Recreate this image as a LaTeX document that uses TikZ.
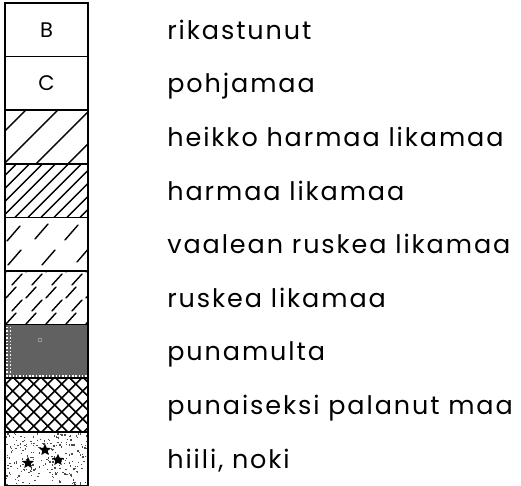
\documentclass[tikz,border=0pt]{standalone}
\usepackage{fontspec}
\setmainfont{Poppins}[LetterSpace=7.5]
\usetikzlibrary{shapes.geometric}

\begin{document}
\begin{tikzpicture}[x=0.02cm,y=-0.02cm,
  lbl/.style={anchor=base west,inner sep=0pt,font=\fontsize{14.5}{16}\selectfont},
  cellbox/.style={draw,line width=0.85pt},
  hatch/.style={line width=0.8pt,line cap=round},
  soot/.style={star,star points=5,star point ratio=2.2,fill=black,inner sep=0pt,minimum size=0.25cm}]
\useasboundingbox (0,0) rectangle (521,486);

% B and C
\node[font=\fontsize{12}{12}\selectfont] (rowB) at (46.5,29.8) {B};
\node[font=\fontsize{12}{12}\selectfont] (rowC) at (46.5,83.4) {C};

% heikko harmaa likamaa: sparse hatching
\begin{scope}
  \clip (5,110.2) rectangle (88,163.8);
  \foreach \a in {-28,4,...,100}
    \draw[hatch] (\a,163.8) -- ++(53.6,-53.6);
\end{scope}

% harmaa likamaa: dense hatching
\begin{scope}
  \clip (5,163.8) rectangle (88,217.4);
  \foreach \a in {-50,-37,...,100}
    \draw[hatch] (\a,217.4) -- ++(53.6,-53.6);
\end{scope}

% vaalean ruskea likamaa: sparse dashes
\begin{scope}
  \clip (5,217.4) rectangle (88,271);
  \foreach \p in {(7,241),(35,239),(65,240),(8,265),(42,265),(77,262)}
    \draw[hatch] \p -- ++(13,-15);
\end{scope}

% ruskea likamaa: dense dashes
\begin{scope}
  \clip (5,271) rectangle (88,324.6);
  \foreach \j in {0,...,4} {
    \pgfmathsetmacro\yb{272+13*\j}
    \pgfmathsetmacro\xs{6+6*mod(\j,2)}
    \foreach \i in {0,...,4}
      \draw[hatch] (\xs+20*\i,\yb) -- ++(10,-11);
  }
\end{scope}

% punamulta: dark screen
\fill[black!62] (5,324.6) rectangle (88,378.2);
\begin{scope}
  \clip (5,324.6) rectangle (88,378.2);
  \foreach \k in {0,...,14} {
    \fill[white] (6,327+3.4*\k) rectangle ++(1.5,1.5);
    \fill[white] (9.5,327+3.4*\k) rectangle ++(1.5,1.5);
  }
  \foreach \k in {0,...,24}
    \fill[white] (6+3.3*\k,375.5) rectangle ++(1.5,1.5);
  \draw[white!70!black,line width=0.3pt] (40,340) circle (2);
\end{scope}

% punaiseksi palanut maa: cross hatching
\begin{scope}
  \clip (5,378.2) rectangle (88,431.8);
  \foreach \a in {-56,-42,...,100} {
    \draw[line width=0.85pt] (\a,431.8) -- ++(53.6,-53.6);
    \draw[line width=0.85pt] (\a,378.2) -- ++(53.6,53.6);
  }
\end{scope}

% hiili, noki: dots and soot
\begin{scope}
  \clip (5,431.8) rectangle (88,485.4);
  \pgfmathsetseed{11}
  \foreach \k in {1,...,230} {
    \pgfmathsetmacro\dx{6+81*rnd}
    \pgfmathsetmacro\dy{433+51*rnd}
    \fill[black!70] (\dx,\dy) rectangle ++(1.3,1.3);
  }
\end{scope}
\node[soot] (soot1) at (45,450) {};
\node[soot] (soot2) at (28,463) {};
\node[soot] (soot3) at (58,460) {};

% frames
\foreach \r in {0,...,8}
  \draw[cellbox] (5,3+53.6*\r) rectangle ++(83,53.6);

% labels
\node[lbl] (lB) at (167,39.3) {rikastunut};
\node[lbl] (lC) at (167,92.9) {pohjamaa};
\node[lbl] (lHH) at (167,146.5) {heikko harmaa likamaa};
\node[lbl] (lH) at (167,200.1) {harmaa likamaa};
\node[lbl] (lVR) at (167,253.7) {vaalean ruskea likamaa};
\node[lbl] (lR) at (167,307.3) {ruskea likamaa};
\node[lbl] (lP) at (167,360.9) {punamulta};
\node[lbl] (lPP) at (167,414.5) {punaiseksi palanut maa};
\node[lbl] (lN) at (167,468.1) {hiili, noki};
\end{tikzpicture}
\end{document}
